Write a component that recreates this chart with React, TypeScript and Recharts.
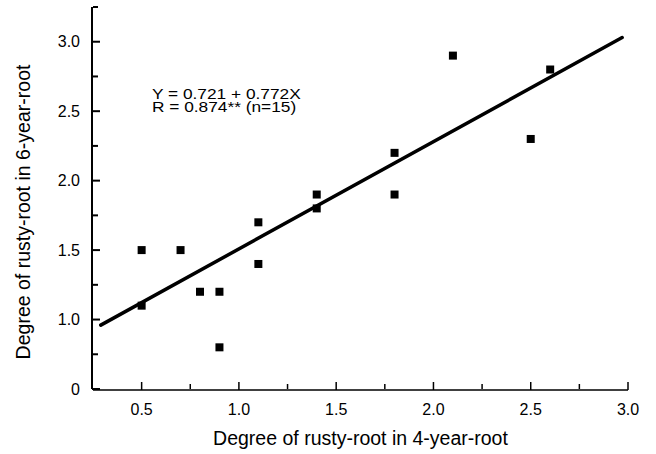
import React from 'react';
import { ScatterChart, Scatter, XAxis, YAxis, ZAxis, Label } from 'recharts';

// degree of rusty-root, 4-year-root (x) vs 6-year-root (y)
const x4 = [0.5, 0.5, 0.7, 0.8, 0.9, 0.9, 1.1, 1.1, 1.4, 1.4, 1.8, 1.8, 2.1, 2.5, 2.6];
const y6 = [1.5, 1.1, 1.5, 1.2, 1.2, 0.8, 1.7, 1.4, 1.9, 1.8, 2.2, 1.9, 2.9, 2.3, 2.8];

// ends of the fitted line
const fitX = [0.29, 2.97];
const fitY = [0.96, 3.03];

const xMajor = [0.5, 1.0, 1.5, 2.0, 2.5, 3.0];
const xMinor = [0.75, 1.25, 1.75, 2.25, 2.75];
const yMajor = [0.5, 1.0, 1.5, 2.0, 2.5, 3.0];
const yMinor = [0.75, 1.25, 1.75, 2.25, 2.75, 3.25];
// the y axis is broken: its bottom end is labelled 0
const yLabel = (v: number) => (v === 0.5 ? '0' : v.toFixed(1));
const xLabel = (v: number) => v.toFixed(1);

const points = x4.map((x, i) => ({ x, y: y6[i] }));
const fit = fitX.map((x, i) => ({ x, y: fitY[i] }));

const FONT = '"Liberation Sans", Arial, Helvetica, sans-serif';
const tickStyle = { fill: '#000', fontSize: 16, fontFamily: FONT };

const YTitle = () => {
    const cx = 30;
    const cy = 212;
    return (
        <text
            x={cx}
            y={cy}
            transform={`rotate(-90, ${cx}, ${cy})`}
            textAnchor="middle"
            fontSize={19.5}
            fontFamily={FONT}
            fill="#000"
        >
            Degree of rusty-root in 6-year-root
        </text>
    );
};

const Square = (props: any) => {
    const { cx, cy } = props;
    return <rect x={cx - 4} y={cy - 4} width={8} height={8} fill="#000" />;
};

export default function App() {
    return (
        <div style={{ position: 'absolute', left: 0, top: 0, width: 656, height: 454, background: '#fff' }}>
            <ScatterChart width={656} height={454} margin={{ top: 7, right: 28, bottom: 0, left: 0 }}>
                {/* minor ticks only */}
                <XAxis
                    xAxisId={0}
                    type="number"
                    dataKey="x"
                    domain={[0.25, 3.0]}
                    ticks={xMinor}
                    interval={0}
                    allowDataOverflow
                    height={1}
                    tickSize={-5}
                    tickFormatter={() => ''}
                    axisLine={false}
                    tickLine={{ stroke: '#000', strokeWidth: 1.5 }}
                />
                <XAxis
                    xAxisId={1}
                    type="number"
                    dataKey="x"
                    domain={[0.25, 3.0]}
                    ticks={xMajor}
                    interval={0}
                    allowDataOverflow
                    height={64}
                    tickSize={-8}
                    tickMargin={22}
                    tickFormatter={xLabel}
                    tick={tickStyle}
                    tickLine={{ stroke: '#000', strokeWidth: 1.5 }}
                    axisLine={{ stroke: '#000', strokeWidth: 1.5 }}
                >
                    <Label
                        value="Degree of rusty-root in 4-year-root"
                        position="insideBottom"
                        offset={9}
                        style={{ fontSize: 19.5, fontFamily: FONT, fill: '#000' }}
                    />
                </XAxis>
                <YAxis
                    yAxisId={0}
                    type="number"
                    dataKey="y"
                    domain={[0.5, 3.25]}
                    ticks={yMinor}
                    interval={0}
                    allowDataOverflow
                    width={1}
                    tickSize={-5}
                    tickFormatter={() => ''}
                    axisLine={false}
                    tickLine={{ stroke: '#000', strokeWidth: 2 }}
                />
                <YAxis
                    yAxisId={1}
                    type="number"
                    dataKey="y"
                    domain={[0.5, 3.25]}
                    ticks={yMajor}
                    interval={0}
                    allowDataOverflow
                    width={92}
                    tickSize={-8}
                    tickMargin={20}
                    tickFormatter={yLabel}
                    tick={tickStyle}
                    tickLine={{ stroke: '#000', strokeWidth: 2 }}
                    axisLine={{ stroke: '#000', strokeWidth: 2 }}
                >
                    <Label content={<YTitle />} />
                </YAxis>
                <ZAxis range={[64, 64]} />
                <Scatter
                    xAxisId={1}
                    yAxisId={1}
                    data={fit}
                    line={{ stroke: '#000', strokeWidth: 3.5, strokeLinecap: 'round' }}
                    shape={() => <g />}
                    isAnimationActive={false}
                />
                <Scatter xAxisId={1} yAxisId={1} data={points} shape={<Square />} isAnimationActive={false} />
            </ScatterChart>
            <div
                style={{
                    position: 'absolute',
                    left: 152,
                    top: 88,
                    fontFamily: FONT,
                    fontSize: 14,
                    lineHeight: '12.5px',
                    color: '#000',
                    whiteSpace: 'pre',
                    transform: 'scaleX(1.235)',
                    transformOrigin: '0 0',
                }}
            >
                {'Y = 0.721 + 0.772X\nR = 0.874** (n=15)'}
            </div>
        </div>
    );
}
